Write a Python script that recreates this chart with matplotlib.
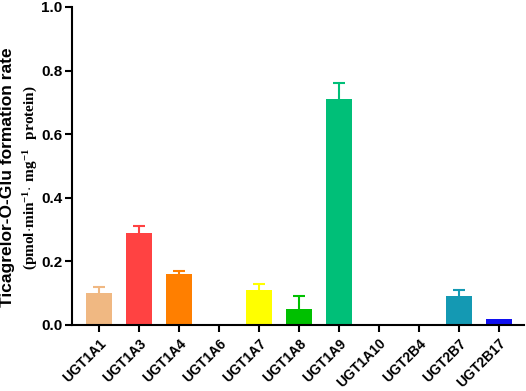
import matplotlib.pyplot as plt
import numpy as np

# data
ISOFORMS = ["UGT1A1", "UGT1A3", "UGT1A4", "UGT1A6", "UGT1A7", "UGT1A8",
            "UGT1A9", "UGT1A10", "UGT2B4", "UGT2B7", "UGT2B17"]
RATE = [0.10, 0.29, 0.16, 0.0, 0.11, 0.05, 0.71, 0.0, 0.0, 0.09, 0.02]
SD = [0.02, 0.02, 0.01, 0.0, 0.02, 0.04, 0.05, 0.0, 0.0, 0.02, 0.0]
COLORS = ["#F0B882", "#FF4242", "#FF7F00", "#FFFFFF", "#FFFF00", "#00C000",
          "#00BF78", "#FFFFFF", "#FFFFFF", "#1499B3", "#1010F0"]

plt.rcParams['font.family'] = ['Liberation Sans', 'DejaVu Sans']
plt.rcParams['mathtext.fontset'] = 'custom'
plt.rcParams['mathtext.rm'] = 'Liberation Serif:bold'
plt.rcParams['mathtext.bf'] = 'Liberation Serif:bold'

fig = plt.figure(figsize=(5.26, 3.91), dpi=100)
ax = fig.add_axes([72 / 526, 1 - 325 / 391, (524 - 72) / 526, (325 - 7) / 391])

x = np.arange(len(ISOFORMS))
# symmetric bars drawn behind the columns so only the upper half shows
for xi, v, e, c in zip(x, RATE, SD, COLORS):
    if e > 0:
        ax.errorbar(xi, v, yerr=e, fmt='none', ecolor=c,
                    elinewidth=1.5, capsize=4.3, capthick=1.5, zorder=1)
ax.bar(x, RATE, width=0.65, color=COLORS, zorder=2)

ax.set_xlim(-0.675, len(ISOFORMS) - 1 + 0.625)
ax.set_ylim(0, 1.0)
ax.set_yticks([0.0, 0.2, 0.4, 0.6, 0.8, 1.0])
ax.set_yticklabels([f"{t:.1f}" for t in [0.0, 0.2, 0.4, 0.6, 0.8, 1.0]],
                   fontsize=11, fontweight='bold')
ax.set_xticks(x)
ax.set_xticklabels(ISOFORMS, rotation=45, ha='right', rotation_mode='anchor',
                   fontsize=10, fontweight='bold')

for s in ['top', 'right']:
    ax.spines[s].set_visible(False)
for s in ['left', 'bottom']:
    ax.spines[s].set_linewidth(1.5)
ax.tick_params(axis='both', width=1.5, length=5)
ax.tick_params(axis='y', pad=2)
ax.tick_params(axis='x', pad=3)

fig.text(7.5 / 526, 1 - 177 / 391, "Ticagrelor-O-Glu formation rate",
         rotation=90, ha='center', va='center', fontsize=12.5, fontweight='bold')
fig.text(31 / 526, 1 - 178 / 391,
         r"$\mathrm{(pmol{\cdot}min^{-1}{\cdot}\ mg^{-1}\ \ protein)}$",
         rotation=90, ha='center', va='center', fontsize=11)

fig.savefig("out.png", dpi=100)
